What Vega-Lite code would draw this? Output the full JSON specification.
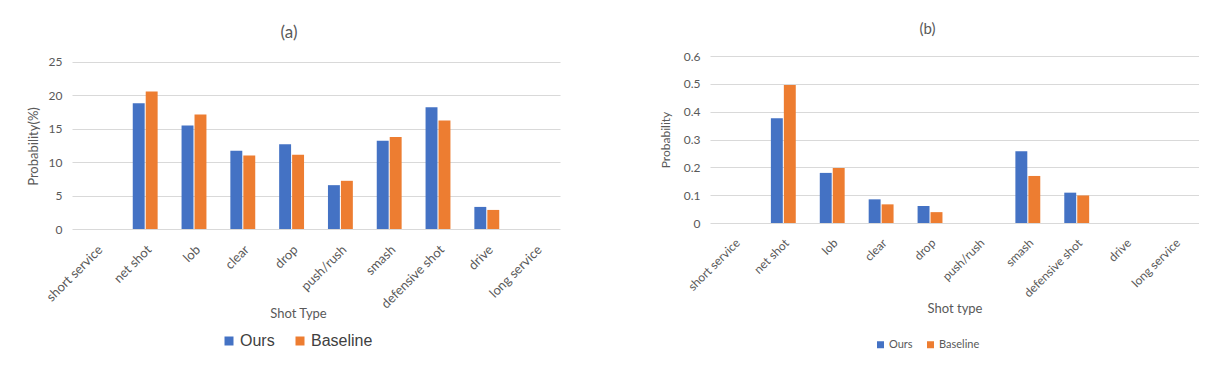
{
  "$schema": "https://vega.github.io/schema/vega-lite/v6.json",
  "background": "white",
  "padding": {"left": 27, "top": 22, "right": 0, "bottom": 0},
  "spacing": 99,
  "config": {
    "view": {"stroke": null},
    "font": "Lato",
    "axis": {"labelColor": "#595959", "titleColor": "#595959", "titleFontWeight": "normal", "gridColor": "#D9D9D9", "gridWidth": 1.2, "domain": false, "ticks": false},
    "title": {"color": "#595959", "fontWeight": "normal", "anchor": "middle"}
  },
  "datasets": {
    "a": [
      {"shot": "short service", "model": "Ours", "value": 0},
      {"shot": "short service", "model": "Baseline", "value": 0},
      {"shot": "net shot", "model": "Ours", "value": 18.8},
      {"shot": "net shot", "model": "Baseline", "value": 20.55},
      {"shot": "lob", "model": "Ours", "value": 15.45},
      {"shot": "lob", "model": "Baseline", "value": 17.1},
      {"shot": "clear", "model": "Ours", "value": 11.7},
      {"shot": "clear", "model": "Baseline", "value": 11.0},
      {"shot": "drop", "model": "Ours", "value": 12.65},
      {"shot": "drop", "model": "Baseline", "value": 11.1},
      {"shot": "push/rush", "model": "Ours", "value": 6.55},
      {"shot": "push/rush", "model": "Baseline", "value": 7.2},
      {"shot": "smash", "model": "Ours", "value": 13.2},
      {"shot": "smash", "model": "Baseline", "value": 13.75},
      {"shot": "defensive shot", "model": "Ours", "value": 18.2},
      {"shot": "defensive shot", "model": "Baseline", "value": 16.2},
      {"shot": "drive", "model": "Ours", "value": 3.3},
      {"shot": "drive", "model": "Baseline", "value": 2.85},
      {"shot": "long service", "model": "Ours", "value": 0},
      {"shot": "long service", "model": "Baseline", "value": 0}
    ],
    "b": [
      {"shot": "short service", "model": "Ours", "value": 0},
      {"shot": "short service", "model": "Baseline", "value": 0},
      {"shot": "net shot", "model": "Ours", "value": 0.376},
      {"shot": "net shot", "model": "Baseline", "value": 0.496},
      {"shot": "lob", "model": "Ours", "value": 0.18},
      {"shot": "lob", "model": "Baseline", "value": 0.198},
      {"shot": "clear", "model": "Ours", "value": 0.085},
      {"shot": "clear", "model": "Baseline", "value": 0.067},
      {"shot": "drop", "model": "Ours", "value": 0.061},
      {"shot": "drop", "model": "Baseline", "value": 0.039},
      {"shot": "push/rush", "model": "Ours", "value": 0},
      {"shot": "push/rush", "model": "Baseline", "value": 0},
      {"shot": "smash", "model": "Ours", "value": 0.258},
      {"shot": "smash", "model": "Baseline", "value": 0.169},
      {"shot": "defensive shot", "model": "Ours", "value": 0.109},
      {"shot": "defensive shot", "model": "Baseline", "value": 0.099},
      {"shot": "drive", "model": "Ours", "value": 0},
      {"shot": "drive", "model": "Baseline", "value": 0},
      {"shot": "long service", "model": "Ours", "value": 0},
      {"shot": "long service", "model": "Baseline", "value": 0}
    ]
  },
  "hconcat": [
    {
      "width": 488,
      "height": 173,
      "data": {"name": "a"},
      "title": {"text": "(a)", "fontSize": 17, "offset": 14, "dx": -27},
      "mark": {"type": "bar"},
      "encoding": {
        "x": {
          "field": "shot", "type": "nominal",
          "sort": ["short service", "net shot", "lob", "clear", "drop", "push/rush", "smash", "defensive shot", "drive", "long service"],
          "scale": {"paddingInner": 0.49, "paddingOuter": 0.245},
          "axis": {"title": "Shot Type", "labelAngle": -45, "labelFontSize": 13, "labelPadding": 14, "titleFontSize": 13, "titleX": 226, "titleY": 78, "labelOverlap": false}
        },
        "xOffset": {"field": "model", "type": "nominal", "sort": ["Ours", "Baseline"], "scale": {"paddingInner": 0.08}},
        "y": {
          "field": "value", "type": "quantitative",
          "scale": {"domain": [0, 25.85], "nice": false},
          "axis": {"values": [0, 5, 10, 15, 20, 25], "title": "Probability(%)", "titleAnchor": "middle", "titleY": 90, "labelFontSize": 12, "labelPadding": 10, "titleFontSize": 13, "titlePadding": 8}
        },
        "color": {
          "field": "model", "type": "nominal",
          "scale": {"domain": ["Ours", "Baseline"], "range": ["#4472C4", "#ED7D31"]},
          "legend": {"title": null, "orient": "none", "direction": "horizontal", "legendX": 149, "legendY": 277, "labelFontSize": 16, "labelFont": "Liberation Sans", "labelColor": "#404040", "symbolType": "square", "symbolSize": 81, "symbolStrokeWidth": 0, "columnPadding": 17, "labelOffset": 3}
        }
      }
    },
    {
      "width": 489,
      "height": 167,
      "data": {"name": "b"},
      "title": {"text": "(b)", "fontSize": 15, "offset": 13, "dx": -27},
      "mark": {"type": "bar"},
      "encoding": {
        "x": {
          "field": "shot", "type": "nominal",
          "sort": ["short service", "net shot", "lob", "clear", "drop", "push/rush", "smash", "defensive shot", "drive", "long service"],
          "scale": {"paddingInner": 0.49, "paddingOuter": 0.245},
          "axis": {"title": "Shot type", "labelAngle": -45, "labelFontSize": 12, "labelPadding": 14, "titleFontSize": 13, "titleY": 79, "labelOverlap": false}
        },
        "xOffset": {"field": "model", "type": "nominal", "sort": ["Ours", "Baseline"], "scale": {"paddingInner": 0.12}},
        "y": {
          "field": "value", "type": "quantitative",
          "scale": {"domain": [0, 0.6]},
          "axis": {"values": [0, 0.1, 0.2, 0.3, 0.4, 0.5, 0.6], "format": ".1~f", "title": "Probability", "labelFontSize": 12, "labelPadding": 10, "titleFontSize": 12, "titlePadding": 11}
        },
        "color": {
          "field": "model", "type": "nominal",
          "scale": {"domain": ["Ours", "Baseline"], "range": ["#4472C4", "#ED7D31"]},
          "legend": {"title": null, "orient": "none", "direction": "horizontal", "legendX": 165, "legendY": 283, "labelFontSize": 11, "labelColor": "#595959", "symbolType": "square", "symbolSize": 49, "symbolStrokeWidth": 0, "columnPadding": 12, "labelOffset": 3}
        }
      }
    }
  ],
  "resolve": {"scale": {"y": "independent", "x": "independent", "color": "independent"}, "legend": {"color": "independent"}}
}
